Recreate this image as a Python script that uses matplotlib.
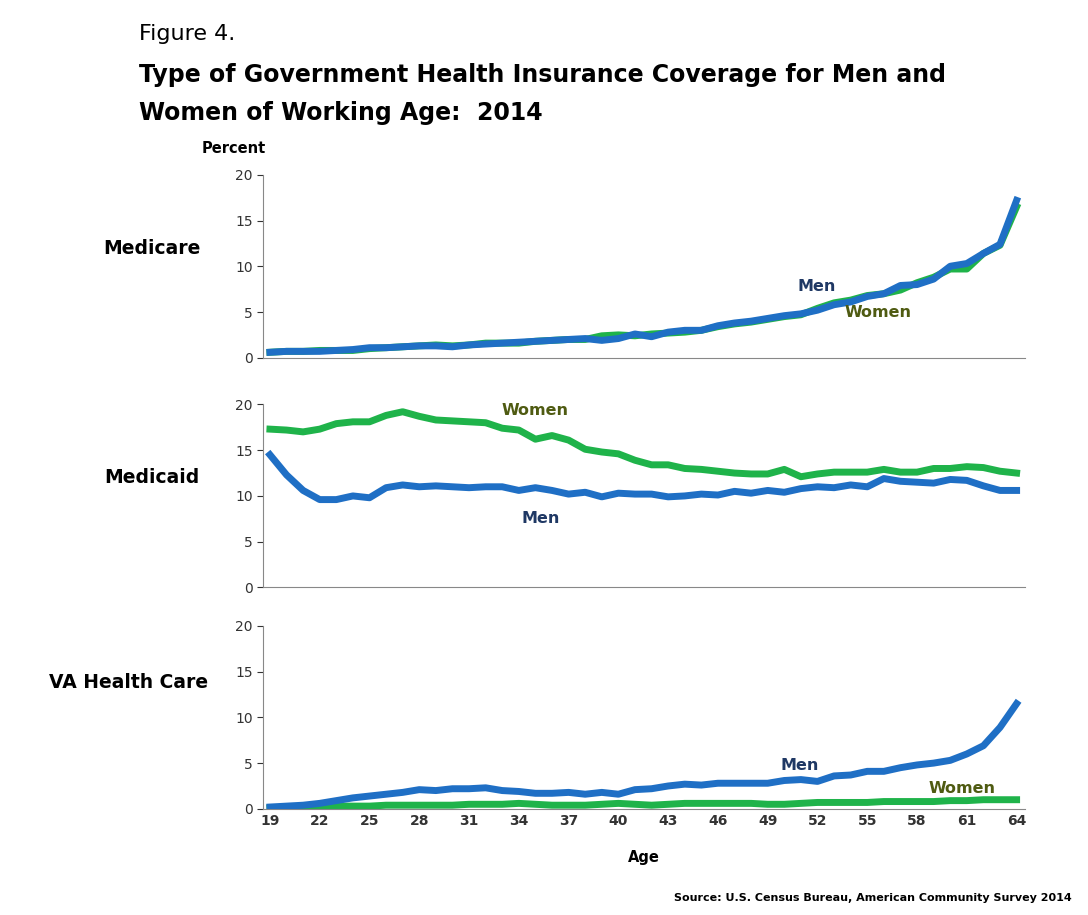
import matplotlib.pyplot as plt
import numpy as np


ages = np.arange(19, 65)
medicare_men = [0.6, 0.7, 0.7, 0.7, 0.8, 0.9, 1.1, 1.1, 1.2, 1.3, 1.3, 1.2, 1.4, 1.5, 1.6, 1.7,
                1.8, 1.9, 2.0, 2.1, 1.9, 2.1, 2.6, 2.3, 2.8, 3.0, 3.0, 3.5, 3.8, 4.0, 4.3, 4.6,
                4.8, 5.2, 5.8, 6.1, 6.7, 7.0, 7.9, 8.0, 8.6, 10.0, 10.3, 11.4, 12.4, 17.2]
medicare_women = [0.6, 0.7, 0.7, 0.8, 0.8, 0.8, 1.0, 1.1, 1.2, 1.3, 1.4, 1.3, 1.4, 1.6, 1.6, 1.6,
                  1.8, 1.9, 2.0, 2.0, 2.4, 2.5, 2.4, 2.6, 2.7, 2.8, 3.0, 3.4, 3.7, 3.9, 4.2, 4.5,
                  4.7, 5.4, 6.0, 6.3, 6.8, 7.0, 7.4, 8.2, 8.8, 9.7, 9.7, 11.4, 12.3, 16.5]
medicaid_men = [14.5, 12.3, 10.6, 9.6, 9.6, 10.0, 9.8, 10.9, 11.2, 11.0, 11.1, 11.0, 10.9, 11.0, 11.0, 10.6,
                10.9, 10.6, 10.2, 10.4, 9.9, 10.3, 10.2, 10.2, 9.9, 10.0, 10.2, 10.1, 10.5, 10.3, 10.6, 10.4,
                10.8, 11.0, 10.9, 11.2, 11.0, 11.9, 11.6, 11.5, 11.4, 11.8, 11.7, 11.1, 10.6, 10.6]
medicaid_women = [17.3, 17.2, 17.0, 17.3, 17.9, 18.1, 18.1, 18.8, 19.2, 18.7, 18.3, 18.2, 18.1, 18.0, 17.4, 17.2,
                  16.2, 16.6, 16.1, 15.1, 14.8, 14.6, 13.9, 13.4, 13.4, 13.0, 12.9, 12.7, 12.5, 12.4, 12.4, 12.9,
                  12.1, 12.4, 12.6, 12.6, 12.6, 12.9, 12.6, 12.6, 13.0, 13.0, 13.2, 13.1, 12.7, 12.5]
va_men = [0.2, 0.3, 0.4, 0.6, 0.9, 1.2, 1.4, 1.6, 1.8, 2.1, 2.0, 2.2, 2.2, 2.3, 2.0, 1.9,
          1.7, 1.7, 1.8, 1.6, 1.8, 1.6, 2.1, 2.2, 2.5, 2.7, 2.6, 2.8, 2.8, 2.8, 2.8, 3.1,
          3.2, 3.0, 3.6, 3.7, 4.1, 4.1, 4.5, 4.8, 5.0, 5.3, 6.0, 6.9, 8.9, 11.5]
va_women = [0.1, 0.2, 0.2, 0.2, 0.3, 0.3, 0.3, 0.4, 0.4, 0.4, 0.4, 0.4, 0.5, 0.5, 0.5, 0.6,
            0.5, 0.4, 0.4, 0.4, 0.5, 0.6, 0.5, 0.4, 0.5, 0.6, 0.6, 0.6, 0.6, 0.6, 0.5, 0.5,
            0.6, 0.7, 0.7, 0.7, 0.7, 0.8, 0.8, 0.8, 0.8, 0.9, 0.9, 1.0, 1.0, 1.0]
xticks = list(range(19, 65, 3))

blue = '#1f6fc5'
green = '#1fb34a'
navy = '#1f3864'
olive = '#4f5b12'

fig = plt.figure(figsize=(10.88, 9.15), dpi=100)
fig.text(0.128, 0.963, 'Figure 4.', fontsize=16, va='center')
fig.text(0.128, 0.918, 'Type of Government Health Insurance Coverage for Men and',
         fontsize=17, fontweight='bold', va='center')
fig.text(0.128, 0.877, 'Women of Working Age:  2014', fontsize=17, fontweight='bold', va='center')
fig.text(0.215, 0.838, 'Percent', fontsize=10.5, fontweight='bold', ha='center', va='center')

panels = [('Medicare', medicare_men, medicare_women, 0.609, 0.14, 0.119),
          ('Medicaid', medicaid_men, medicaid_women, 0.358, 0.14, 0.120),
          ('VA Health Care', va_men, va_women, 0.116, 0.118, 0.138)]
for i, (name, men, women, bottom, lx, ly) in enumerate(panels):
    ax = fig.add_axes([0.242, bottom, 0.70, 0.2])
    ax.plot(ages, women, color=green, lw=5)
    ax.plot(ages, men, color=blue, lw=5, zorder=3)
    ax.set_ylim(0, 20)
    ax.set_xlim(18.6, 64.5)
    ax.set_yticks([0, 5, 10, 15, 20])
    ax.set_xticks(xticks)
    ax.tick_params(labelsize=10, colors='#333333', length=4)
    ax.tick_params(axis='x', length=0)
    if i < 2:
        ax.set_xticklabels([])
    else:
        ax.set_xticklabels([str(t) for t in xticks], fontweight='bold')
        ax.set_xlabel('Age', fontsize=10.5, fontweight='bold', labelpad=16)
    for s in ['top', 'right']:
        ax.spines[s].set_visible(False)
    ax.spines['left'].set_color('#888888')
    ax.spines['bottom'].set_color('#888888')
    fig.text(lx, bottom + ly, name, fontsize=13.5, fontweight='bold', ha='center', va='center')

# series labels
axes = fig.axes
axes[0].text(50.8, 7.3, 'Men', color=navy, fontsize=11.5, fontweight='bold')
axes[0].text(53.6, 4.5, 'Women', color=olive, fontsize=11.5, fontweight='bold')
axes[1].text(35.0, 18.8, 'Women', color=olive, fontsize=11.5, fontweight='bold', ha='center')
axes[1].text(35.3, 7.0, 'Men', color=navy, fontsize=11.5, fontweight='bold', ha='center')
axes[2].text(50.9, 4.3, 'Men', color=navy, fontsize=11.5, fontweight='bold', ha='center')
axes[2].text(60.7, 1.7, 'Women', color=olive, fontsize=11.5, fontweight='bold', ha='center')

fig.text(0.985, 0.015, 'Source: U.S. Census Bureau, American Community Survey 2014',
         fontsize=8, fontweight='bold', ha='right')

plt.savefig('out.png', dpi=100)
plt.close()
